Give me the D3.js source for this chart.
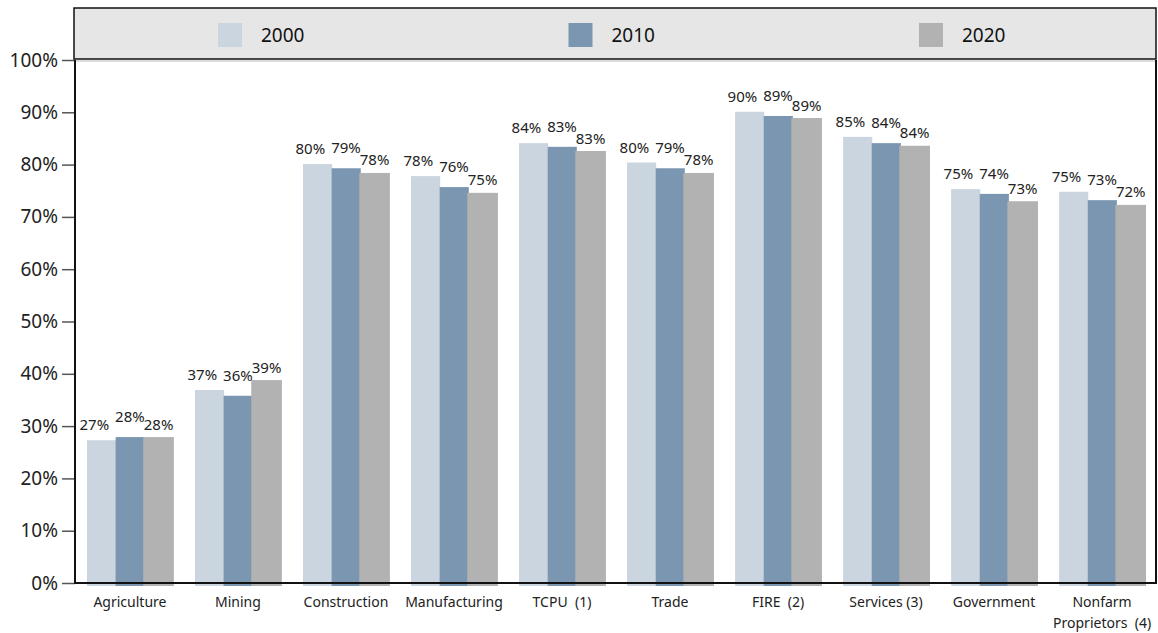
<!DOCTYPE html>
<html><head><meta charset="utf-8">
<script src="https://cdn.jsdelivr.net/npm/d3@7/dist/d3.min.js"></script>
<style>body{margin:0;background:#fff;} svg{display:block;font-family:"Noto Sans",sans-serif;}</style>
</head><body>
<svg id="c" width="1158" height="633"></svg>
<script>
const categories = ["Agriculture","Mining","Construction","Manufacturing","TCPU  (1)","Trade","FIRE  (2)","Services (3)","Government","Nonfarm|Proprietors  (4)"];
const seriesNames = ["2000","2010","2020"];
const values2000 = [27.3,36.9,80.1,77.8,84.1,80.4,90.1,85.3,75.3,74.8];
const values2010 = [27.9,35.8,79.3,75.7,83.4,79.3,89.3,84.1,74.4,73.2];
const values2020 = [27.9,38.8,78.4,74.6,82.6,78.4,88.9,83.6,73.0,72.3];
const yTicks = [0,10,20,30,40,50,60,70,80,90,100];
const colors = ["#cad5df","#7a96b1","#b2b2b2"];

const series = [values2000, values2010, values2020];
const svg = d3.select("#c");
const L = 75, R = 1157, T = 60, B = 583;

const x = d3.scaleBand().domain(categories).range([L, R]).paddingInner(0.205).paddingOuter(0.111);
const y = d3.scaleLinear().domain([0,100]).range([B, T]);
const xs = d3.scaleBand().domain(seriesNames).range([0, x.bandwidth()]).padding(0);

// plot top light line
svg.append("line").attr("x1",L).attr("x2",R).attr("y1",T+1).attr("y2",T+1).attr("stroke","#d0d0d0").attr("stroke-width",1.5);

// bars
const labelDy = [10, 15, 7.5];
const labelDx = [-7, 0, 0];
series.forEach((vals, si) => {
  svg.append("g").selectAll("rect").data(vals).join("rect")
    .attr("x", (d,i) => x(categories[i]) + xs(seriesNames[si]) - (si===2?1:0))
    .attr("width", xs.bandwidth() + (si===2?2:0.5))
    .attr("y", d => y(d))
    .attr("height", d => y(0) - y(d) + 3)
    .attr("fill", colors[si]);
});
series.forEach((vals, si) => {
  svg.append("g").selectAll("text").data(vals).join("text")
    .attr("x", (d,i) => x(categories[i]) + xs(seriesNames[si]) + xs.bandwidth()/2 + labelDx[si])
    .attr("y", d => y(d) - labelDy[si])
    .attr("text-anchor","middle")
    .attr("font-size", 15)
    .attr("fill","#222")
    .text(d => Math.round(d) + "%");
});

// y axis
const yAxis = d3.axisLeft(y).tickValues(yTicks).tickFormat(d => d + "%").tickSize(13).tickPadding(4);
const ga = svg.append("g").attr("transform",`translate(${L},0)`).call(yAxis);
ga.select(".domain").remove();
ga.selectAll(".tick line").attr("stroke","#555").attr("stroke-width",1.5);
ga.selectAll(".tick text").attr("font-size",19).attr("fill","#222").attr("font-family","Noto Sans");

// axis lines
svg.append("line").attr("x1",L).attr("x2",L).attr("y1",T).attr("y2",B+1).attr("stroke","#111").attr("stroke-width",2);
svg.append("line").attr("x1",L).attr("x2",R).attr("y1",B).attr("y2",B).attr("stroke","#111").attr("stroke-width",2);
svg.append("line").attr("x1",R-1).attr("x2",R-1).attr("y1",T).attr("y2",B).attr("stroke","#111").attr("stroke-width",2);

// x labels
const gx = svg.append("g");
categories.forEach(c => {
  const lines = c.split("|");
  const t = gx.append("text").attr("x", x(c) + x.bandwidth()/2).attr("y", 607)
    .attr("text-anchor","middle").attr("font-size",14).attr("fill","#222")
    .style("white-space","pre");
  lines.forEach((ln, k) => {
    t.append("tspan").attr("x", x(c) + x.bandwidth()/2).attr("dy", k===0?0:21).text(ln);
  });
});

// legend
svg.append("rect").attr("x",74).attr("y",8).attr("width",1082).attr("height",51)
  .attr("fill","#e6e6e6").attr("stroke","#111").attr("stroke-width",1.5);
const legX = d3.scalePoint().domain(seriesNames).range([218, 919]);
seriesNames.forEach((s, i) => {
  svg.append("rect").attr("x", legX(s)).attr("y",23).attr("width",24).attr("height",24).attr("fill",colors[i]);
  svg.append("text").attr("x", legX(s) + 43).attr("y", 42).attr("font-size",19).attr("fill","#111").text(s);
});
</script>
</body></html>
